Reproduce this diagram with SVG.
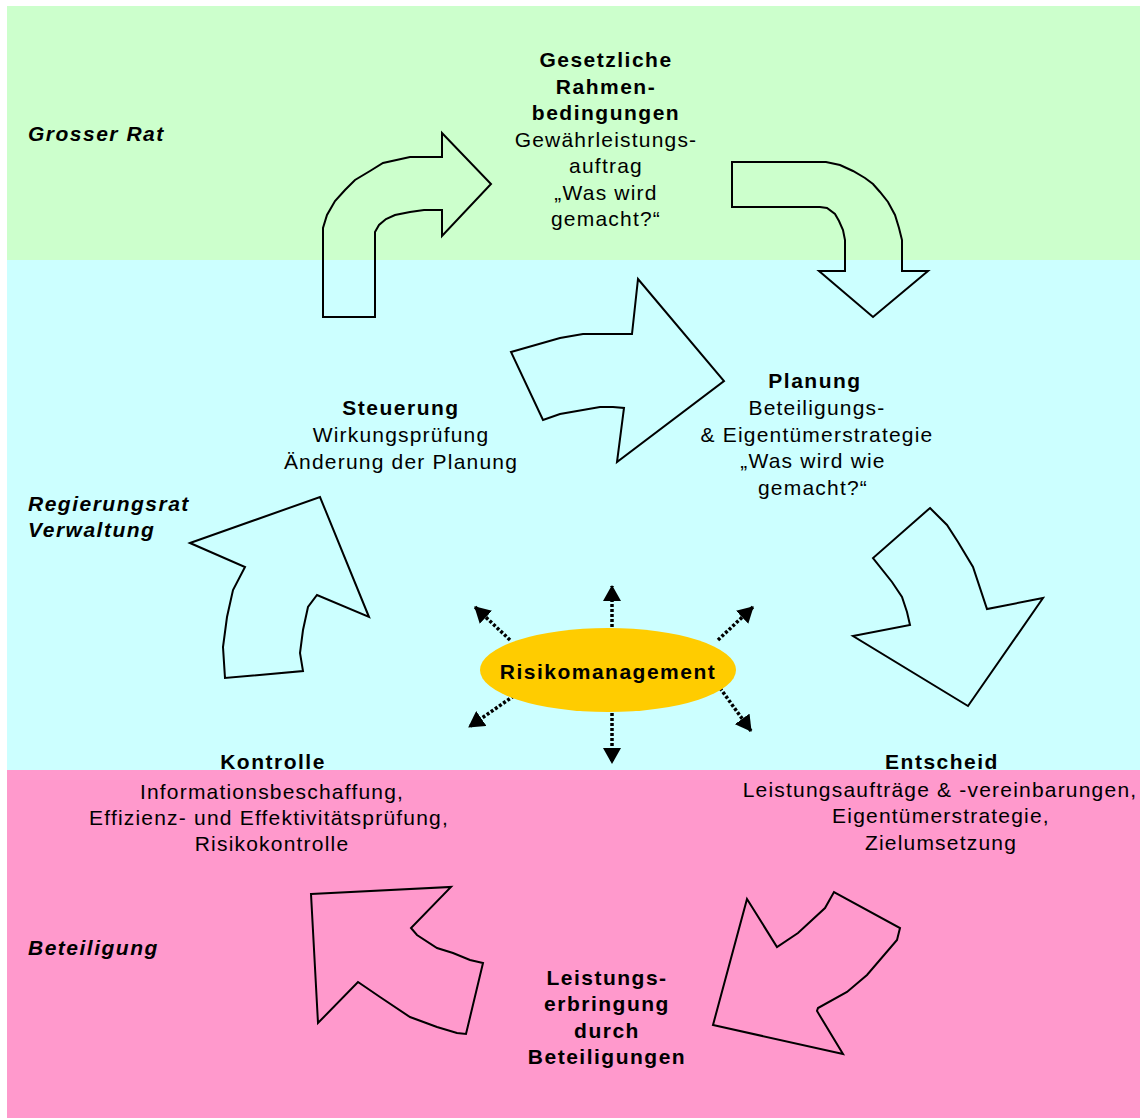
<svg xmlns="http://www.w3.org/2000/svg" width="1140" height="1118" viewBox="0 0 1140 1118">
<defs>
<style>
.t{font-family:"Liberation Sans",Arial,sans-serif;font-size:21px;fill:#000;letter-spacing:1.2px}
.c{text-anchor:middle}
.b{font-weight:bold;letter-spacing:1.5px}
.i{font-weight:bold;font-style:italic;letter-spacing:1.5px}
.arr{fill:none;stroke:#000;stroke-width:2;stroke-linejoin:miter}
.dot{stroke:#000;stroke-width:3.5;stroke-dasharray:3 2;fill:none}
</style>
<marker id="ah" viewBox="0 0 16 18" refX="15" refY="9" markerWidth="16" markerHeight="18" markerUnits="userSpaceOnUse" orient="auto">
<path d="M0,0 L16,9 L0,18 z" fill="#000"/>
</marker>
</defs>
<rect x="0" y="0" width="1140" height="1118" fill="#fff"/>
<g id="bands">
<rect x="7" y="6" width="1133" height="254" fill="#CCFFCC"/>
<rect x="7" y="260" width="1133" height="510" fill="#CCFFFF"/>
<rect x="7" y="770" width="1133" height="348" fill="#FF99CC"/>
</g>
<g id="connectors">
<polygon class="arr" points="323,317 375,317 375,232 379,225 386,219 395,215 410,212 424,210 442,210 442,236 491,184 442,133 442,157 410,157 383,163 370,171 355,180 345,190 335,201 327,215 323,228"/>
<polygon class="arr" points="732,162 826,162 840,165 853,171 865,178 873,184 880,192 888,202 895,215 899,228 902,240 902,271 928,271 873,317 819,271 845,271 845,240 843,230 839,221 835,214 827,208 820,207 732,207"/>
<polygon class="arr" points="511,352 560,338 583,334 632,334 638,279 724,381 617,462 624,408 613,407 600,407 560,414 543,420"/>
<polygon class="arr" points="930,508 947,525 958,542 973,567 987,609 1043,598 968,706 853,636 910,625 907,612 902,597 892,582 873,558"/>
<polygon class="arr" points="190,543 320,497 369,617 317,595 308,607 303,630 300,653 303,671 225,678 223,647 227,617 233,590 245,567"/>
<polygon class="arr" points="311,894 451,887 411,928 417,935 437,948 453,953 470,960 483,963 466,1034 457,1033 437,1027 410,1017 380,997 358,982 318,1023"/>
<polygon class="arr" points="747,899 777,947 798,933 825,908 834,892 900,928 897,940 867,975 847,992 818,1008 817,1011 843,1054 713,1025"/>
<line class="dot" x1="612" y1="627" x2="612" y2="586" marker-end="url(#ah)"/>
<line class="dot" x1="612" y1="713" x2="612" y2="763" marker-end="url(#ah)"/>
<line class="dot" x1="510" y1="640" x2="475" y2="607" marker-end="url(#ah)"/>
<line class="dot" x1="718" y1="640" x2="753" y2="607" marker-end="url(#ah)"/>
<line class="dot" x1="518" y1="693" x2="469" y2="727" marker-end="url(#ah)"/>
<line class="dot" x1="720" y1="688" x2="751" y2="731" marker-end="url(#ah)"/>
</g>
<g id="labels">
<text class="t i" x="28" y="141">Grosser Rat</text>
<text class="t i" x="28" y="511">Regierungsrat</text>
<text class="t i" x="28" y="537">Verwaltung</text>
<text class="t i" x="28" y="955">Beteiligung</text>
</g>
<g id="node-rahmen">
<text class="t c b" x="606" y="67">Gesetzliche</text>
<text class="t c b" x="606" y="94">Rahmen-</text>
<text class="t c b" x="606" y="120">bedingungen</text>
<text class="t c" x="606" y="147">Gewährleistungs-</text>
<text class="t c" x="606" y="173">auftrag</text>
<text class="t c" x="606" y="200">„Was wird</text>
<text class="t c" x="606" y="226">gemacht?“</text>
</g>
<g id="node-planung">
<text class="t c b" x="815" y="388">Planung</text>
<text class="t c" x="817" y="415">Beteiligungs-</text>
<text class="t c" x="817" y="442">&amp; Eigentümerstrategie</text>
<text class="t c" x="813" y="468">„Was wird wie</text>
<text class="t c" x="813" y="495">gemacht?“</text>
</g>
<g id="node-steuerung">
<text class="t c b" x="401" y="415">Steuerung</text>
<text class="t c" x="401" y="442">Wirkungsprüfung</text>
<text class="t c" x="401" y="469">Änderung der Planung</text>
</g>
<g id="node-risiko">
<ellipse cx="608" cy="670" rx="128" ry="42" fill="#FFCC00"/>
<text class="t c b" x="608" y="679">Risikomanagement</text>
</g>
<g id="node-kontrolle">
<text class="t c b" x="273" y="769">Kontrolle</text>
<text class="t c" x="272" y="799">Informationsbeschaffung,</text>
<text class="t c" x="269" y="825">Effizienz- und Effektivitätsprüfung,</text>
<text class="t c" x="272" y="851">Risikokontrolle</text>
</g>
<g id="node-entscheid">
<text class="t c b" x="942" y="769">Entscheid</text>
<text class="t c" x="940" y="797">Leistungsaufträge &amp; -vereinbarungen,</text>
<text class="t c" x="941" y="823">Eigentümerstrategie,</text>
<text class="t c" x="941" y="850">Zielumsetzung</text>
</g>
<g id="node-leistung">
<text class="t c b" x="607" y="985">Leistungs-</text>
<text class="t c b" x="607" y="1011">erbringung</text>
<text class="t c b" x="607" y="1038">durch</text>
<text class="t c b" x="607" y="1064">Beteiligungen</text>
</g>
</svg>
